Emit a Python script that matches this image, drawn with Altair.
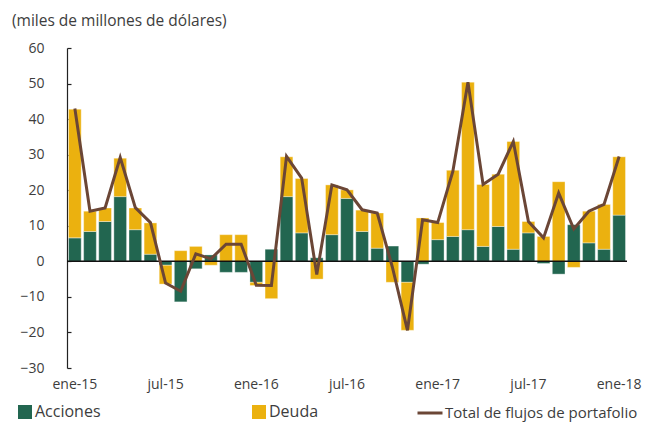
import altair as alt
import pandas as pd

meses = ["ene-15", "feb-15", "mar-15", "abr-15", "may-15", "jun-15", "jul-15", "ago-15",
         "sep-15", "oct-15", "nov-15", "dic-15", "ene-16", "feb-16", "mar-16", "abr-16",
         "may-16", "jun-16", "jul-16", "ago-16", "sep-16", "oct-16", "nov-16", "dic-16",
         "ene-17", "feb-17", "mar-17", "abr-17", "may-17", "jun-17", "jul-17", "ago-17",
         "sep-17", "oct-17", "nov-17", "dic-17", "ene-18"]

acciones = [6.6, 8.4, 11.2, 18.2, 8.9, 2.0, -1.1, -11.4, -2.1, 1.8, -3.1, -3.1,
            -5.9, 3.4, 18.2, 8.0, 1.0, 7.5, 17.7, 8.4, 3.7, 4.3, -5.9, -0.8,
            6.1, 7.0, 8.9, 4.2, 9.8, 3.4, 8.0, -0.6, -3.6, 10.3, 5.2, 3.4, 13.0]

deuda = [36.2, 5.7, 3.8, 10.8, 6.1, 8.8, -5.3, 3.0, 4.2, -1.1, 7.5, 7.5,
         -0.9, -10.5, 11.2, 15.3, -5.0, 14.0, 2.4, 6.0, 9.9, -5.9, -13.5, 12.2,
         4.8, 18.6, 41.5, 17.4, 14.7, 30.3, 3.2, 7.0, 22.4, -1.7, 8.9, 12.6, 16.4]

total = [43.0, 14.1, 15.0, 29.2, 15.1, 10.9, -6.1, -8.4, 2.1, 0.7, 4.8, 4.8,
         -6.7, -6.8, 29.5, 23.4, -3.7, 21.5, 20.1, 14.5, 13.6, -1.6, -19.4, 11.7,
         10.9, 25.3, 50.4, 21.6, 24.5, 33.7, 11.2, 6.6, 19.2, 9.1, 14.1, 16.0, 29.5]

etiquetas = ["ene-15", "jul-15", "ene-16", "jul-16", "ene-17", "jul-17", "ene-18"]
ticks_y = [-30, -20, -10, 0, 10, 20, 30, 40, 50, 60]
series = ["Acciones", "Deuda"]
serie_total = "Total de flujos de portafolio"

VERDE = "#226650"
ORO = "#EBB10F"
CAFE = "#6B4636"
TEXTO = "#3d3d3d"
FUENTE = "Open Sans"

rows = []
for m, a, d in zip(meses, acciones, deuda):
    rows.append({"mes": m, "serie": "Acciones", "valor": a, "orden": 0})
    rows.append({"mes": m, "serie": "Deuda", "valor": d, "orden": 1})
bars_df = pd.DataFrame(rows)
line_df = pd.DataFrame({"mes": meses, "total": total, "serie": serie_total})
zero_df = pd.DataFrame({"cero": [0]})

W, H = 560, 320

xscale = alt.Scale(domain=meses, paddingInner=0.16, paddingOuter=0.1)
xaxis = alt.Axis(values=etiquetas, title=None, domain=False, ticks=False, labelAngle=0,
                 labelPadding=9, labelFontSize=14, labelColor=TEXTO, labelFont=FUENTE)
yscale = alt.Scale(domain=[-30, 60], nice=False, zero=False)

bars = alt.Chart(bars_df).mark_bar(stroke="#ffffff", strokeWidth=0.6, strokeOpacity=0.6).encode(
    x=alt.X("mes:N", scale=xscale, axis=xaxis),
    y=alt.Y("valor:Q", stack="zero", scale=yscale,
            axis=alt.Axis(values=ticks_y, title=None, ticks=False, grid=False,
                          domainColor="#222222", domainWidth=1.2, labelPadding=23,
                          labelFontSize=14, labelColor=TEXTO, labelFont=FUENTE)),
    color=alt.Color("serie:N", scale=alt.Scale(domain=series, range=[VERDE, ORO]),
                    legend=alt.Legend(title=None, orient="none", legendX=-50, legendY=356,
                                      direction="horizontal", columns=2, columnPadding=150,
                                      symbolType="square", symbolSize=196, symbolStrokeWidth=0,
                                      labelFontSize=16, labelFont=FUENTE, labelColor=TEXTO,
                                      labelOffset=2)),
    order=alt.Order("orden:Q"),
)

rule = alt.Chart(zero_df).mark_rule(color="#111111", strokeWidth=1.5).encode(
    y=alt.Y("cero:Q", scale=yscale, axis=None)
)

line = alt.Chart(line_df).mark_line(strokeWidth=3).encode(
    x=alt.X("mes:N", scale=xscale, axis=xaxis),
    y=alt.Y("total:Q", scale=yscale,
            axis=alt.Axis(orient="right", offset=-W, values=ticks_y, labels=False,
                          domain=False, ticks=True, tickSize=4, tickColor="#222222",
                          tickWidth=1.2, grid=False, title=None)),
    stroke=alt.Stroke("serie:N", scale=alt.Scale(domain=[serie_total], range=[CAFE]),
                      legend=alt.Legend(title=None, orient="none", legendX=349, legendY=351,
                                        symbolType="stroke", symbolSize=625,
                                        symbolStrokeWidth=3, labelFontSize=15, labelLimit=400,
                                        labelFont=FUENTE, labelColor=TEXTO, labelOffset=1)),
)

chart = alt.layer(bars, rule, line).resolve_axis(y="independent").properties(
    width=W, height=H,
    title=alt.Title("(miles de millones de dólares)", anchor="start", frame="group",
                    dx=-55, offset=12, fontSize=15.5, fontWeight="normal", font=FUENTE,
                    color=TEXTO),
    autosize=alt.AutoSizeParams(type="none"),
    padding={"left": 59, "top": 40, "right": 16, "bottom": 60},
).configure_view(stroke=None)

chart.save("out.html", embed_options={"renderer": "svg", "actions": False})
